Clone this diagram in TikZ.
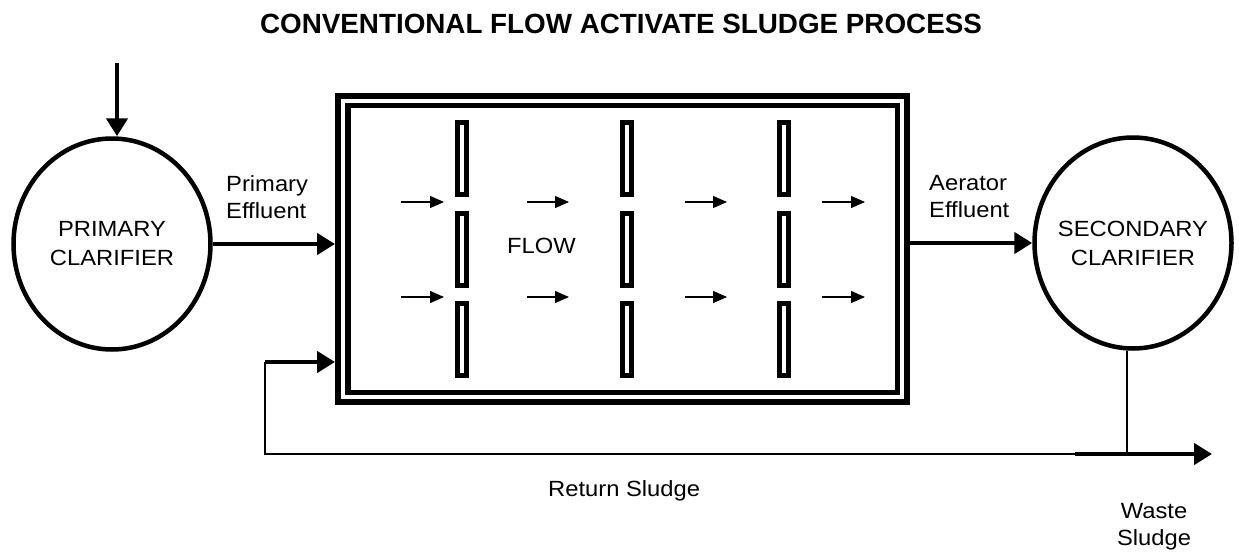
\documentclass[tikz,border=0pt]{standalone}
\usepackage{fontspec}
\setmainfont[FakeStretch=1.08]{Liberation Sans}
\newfontfamily\plainfont{Liberation Sans}
\usetikzlibrary{arrows.meta,shapes.geometric}
\begin{document}
\begin{tikzpicture}[x=1pt,y=-1pt,
 lbl/.style={font=\fontsize{22}{27.5}\selectfont, inner sep=0pt},
 big/.style={line width=4.5pt, -{Triangle[length=18pt,width=21pt]}},
 small/.style={line width=1.3pt, -{Triangle[length=14pt,width=12pt]}},
 thinline/.style={line width=1.2pt},
 clar/.style={ellipse, draw, line width=4.5pt, minimum width=197pt, minimum height=211pt, inner sep=0pt},
 clartext/.style={align=center, inner sep=0pt, font=\fontsize{22}{29}\selectfont},
 baffle/.style={draw, line width=5pt, minimum width=9pt, minimum height=72pt, inner sep=0pt},
 tankbox/.style={draw, inner sep=0pt},
]
\useasboundingbox (0,0) rectangle (1239,554);

% title
\node[font=\fontsize{27.8}{33}\plainfont\bfseries, inner sep=0pt, anchor=base] (title) at (621,33) {CONVENTIONAL FLOW ACTIVATE SLUDGE PROCESS};

% clarifiers
\node[clar] (pc) at (112,244) {};
\node[clartext] (pct) at (pc.center) {PRIMARY\\CLARIFIER};
\node[clar] (sc) at (1133,243) {};
\node[clartext] (sct) at (sc.center) {SECONDARY\\CLARIFIER};

% aeration tank
\node[tankbox, line width=6pt, minimum width=569pt, minimum height=306pt] (tank) at (622.5,249) {};
\node[tankbox, line width=5.5pt, minimum width=549.5pt, minimum height=287pt] (tankin) at (622.75,249) {};

% baffles
\foreach \c/\x in {1/462,2/626.5,3/784}{
  \node[baffle] (b\c a) at (\x,158.5) {};
  \node[baffle] (b\c b) at (\x,249) {};
  \node[baffle] (b\c c) at (\x,339) {};
}

% flow arrows
\foreach \i/\xa/\xb in {1/401/444,2/527/569,3/685/727,4/822/865}{
  \coordinate (fa\i) at (\xa,202); \coordinate (fb\i) at (\xb,202);
  \coordinate (ga\i) at (\xa,297); \coordinate (gb\i) at (\xb,297);
  \draw[small] (fa\i) -- (fb\i);
  \draw[small] (ga\i) -- (gb\i);
}
\node[lbl, anchor=north west] (flow) at (507,238) {FLOW};

% influent
\coordinate (in) at (117,63);
\draw[big] (in) -- (in |- pc.north);

% primary effluent
\draw[big] (pc.east) -- (pc.east -| tank.west);
\node[lbl, anchor=north west, align=left] (pe) at (226,175) {Primary\\Effluent};

% aerator effluent
\draw[big] (tank.east |- sc.west) -- (sc.west);
\node[lbl, anchor=north west, align=left] (ae) at (929,175) {Aerator\\Effluent};

% return sludge
\coordinate (r1) at (265,362);
\coordinate (r2) at (265,454);
\coordinate (w1) at (1075,454);
\coordinate (w2) at (1127,454);
\coordinate (wt) at (1212,454);
\draw[big] (r1) -- (r1 -| tank.west);
\draw[thinline] (r1) -- (r2) -- (w1);
\draw[thinline] (w2 |- sc.south) -- (w2);
\draw[big] (w1) -- (wt);
\node[lbl, anchor=north west] (rs) at (548,480) {Return Sludge};
\node[lbl, anchor=north, align=center] (ws) at (1154,503) {Waste\\Sludge};
\end{tikzpicture}
\end{document}
